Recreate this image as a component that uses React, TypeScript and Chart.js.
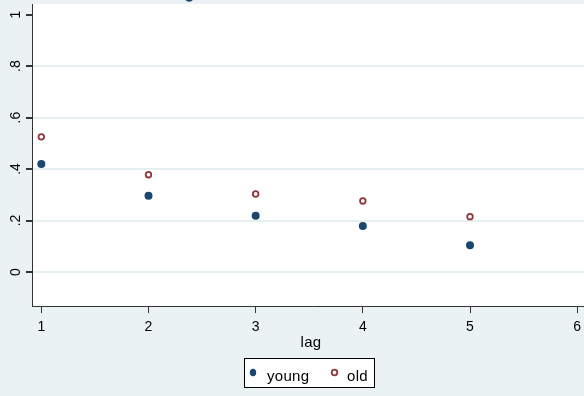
import React, { useEffect, useRef } from 'react';
import { Chart, registerables } from 'chart.js';

Chart.register(...registerables);

const lags = [1, 2, 3, 4, 5];
const youngValues = [0.42, 0.296, 0.219, 0.179, 0.104];
const oldValues = [0.525, 0.378, 0.303, 0.276, 0.215];
const strayLag = [2.38];
const strayValue = [1.065];
const xTicks = [1, 2, 3, 4, 5, 6];
const yTicks = [0, 0.2, 0.4, 0.6, 0.8, 1];
const yTickLabels = ['0', '.2', '.4', '.6', '.8', '1'];
const seriesNames = ['young', 'old'];
const xTitle = 'lag';

const BG = '#EAF2F3';
const BLUE = '#1A476F';
const RED = '#90353B';
const FONT = '"Liberation Sans", Arial, sans-serif';

const frame = {
  id: 'stataFrame',
  beforeDraw(chart: any) {
    const { ctx, width, height, chartArea } = chart;
    ctx.save();
    ctx.fillStyle = BG;
    ctx.fillRect(0, 0, width, height);
    ctx.fillStyle = '#FFFFFF';
    ctx.fillRect(chartArea.left, chartArea.top, chartArea.right - chartArea.left, chartArea.bottom - chartArea.top);
    ctx.restore();
  },
  afterDraw(chart: any) {
    const { ctx, chartArea } = chart;
    ctx.save();
    ctx.fillStyle = '#000';
    ctx.font = `15px ${FONT}`;
    (ctx as any).letterSpacing = '0.3px';
    ctx.textAlign = 'center';
    ctx.textBaseline = 'alphabetic';
    ctx.fillText(xTitle, (chartArea.left + chartArea.right) / 2 - 2, 346.5);
    const left = 244.5, top = 358.5, bw = 130, bh = 29;
    ctx.fillStyle = '#FFFFFF';
    ctx.fillRect(left, top, bw, bh);
    ctx.strokeStyle = '#000';
    ctx.lineWidth = 1;
    ctx.strokeRect(left, top, bw, bh);
    ctx.fillStyle = BLUE;
    ctx.beginPath();
    ctx.ellipse(253, 372.5, 3.2, 3.8, 0, 0, Math.PI * 2);
    ctx.fill();
    ctx.fillStyle = '#000';
    ctx.textAlign = 'left';
    (ctx as any).letterSpacing = '0.3px';
    ctx.fillText(seriesNames[0], 267, 380.5);
    ctx.strokeStyle = RED;
    ctx.lineWidth = 1.8;
    ctx.beginPath();
    ctx.arc(334.5, 372.5, 2.8, 0, Math.PI * 2);
    ctx.stroke();
    ctx.fillStyle = '#000';
    ctx.fillText(seriesNames[1], 347, 380.5);
    ctx.restore();
  },
};

export default function App() {
  const ref = useRef<HTMLCanvasElement | null>(null);
  useEffect(() => {
    if (!ref.current) return;
    const chart = new Chart(ref.current, {
      type: 'scatter',
      data: {
        datasets: [
          {
            label: seriesNames[0],
            data: lags.map((x, i) => ({ x, y: youngValues[i] })),
            backgroundColor: BLUE,
            borderColor: BLUE,
            pointRadius: 4,
            borderWidth: 0,
          },
          {
            label: seriesNames[1],
            data: lags.map((x, i) => ({ x, y: oldValues[i] })),
            backgroundColor: '#FFFFFF',
            borderColor: RED,
            pointRadius: 2.8,
            borderWidth: 1.8,
          },
          {
            label: 'extra',
            data: strayLag.map((x, i) => ({ x, y: strayValue[i] })),
            backgroundColor: BLUE,
            borderColor: BLUE,
            pointRadius: 4,
            pointHoverRadius: 12,
            borderWidth: 0,
            clip: false as any,
          },
        ],
      },
      options: {
        animation: false,
        responsive: false,
        maintainAspectRatio: false,
        devicePixelRatio: 1,
        layout: { autoPadding: false, padding: { left: 0, top: 4, right: 22, bottom: 0 } },
        plugins: { legend: { display: false }, tooltip: { enabled: false } },
        scales: {
          x: {
            type: 'linear',
            min: 0.913,
            max: 6.157,
            afterFit: (s: any) => { s.height = 90; s.paddingLeft = 0; s.paddingRight = 0; },
            afterBuildTicks: (s: any) => { s.ticks = xTicks.map((v) => ({ value: v })); },
            grid: { drawOnChartArea: false, tickLength: 7, tickColor: '#333', lineWidth: 1 },
            border: { display: true, color: '#333', width: 1 },
            ticks: {
              color: '#000',
              font: { family: FONT, size: 14 },
              padding: 6,
              maxRotation: 0,
              minRotation: 0,
              callback: (v: any) => String(v),
            },
          },
          y: {
            type: 'linear',
            min: -0.132,
            max: 1.041,
            afterFit: (s: any) => { s.width = 32; s.paddingTop = 0; s.paddingBottom = 0; },
            afterBuildTicks: (s: any) => { s.ticks = yTicks.map((v) => ({ value: v })); },
            grid: {
              color: (c: any) => (c.tick && c.tick.value === 1 ? 'rgba(0,0,0,0)' : '#E6EFF1'),
              lineWidth: 2,
              tickLength: 6,
              tickColor: '#333',
            },
            border: { display: true, color: '#333', width: 1 },
            ticks: {
              color: '#000',
              font: { family: FONT, size: 14 },
              padding: 4,
              minRotation: 90,
              maxRotation: 90,
              crossAlign: 'center',
              callback: (v: any) => {
                const i = yTicks.findIndex((t) => Math.abs(t - v) < 1e-9);
                return i >= 0 ? yTickLabels[i] : '';
              },
            },
          },
        },
      },
      plugins: [frame],
    });
    return () => chart.destroy();
  }, []);
  return (
    <div style={{ position: 'fixed', left: 0, top: 0, width: 584, height: 396, overflow: 'hidden', background: BG }}>
      <canvas ref={ref} width={616} height={396} style={{ width: 616, height: 396, display: 'block' }} />
    </div>
  );
}
